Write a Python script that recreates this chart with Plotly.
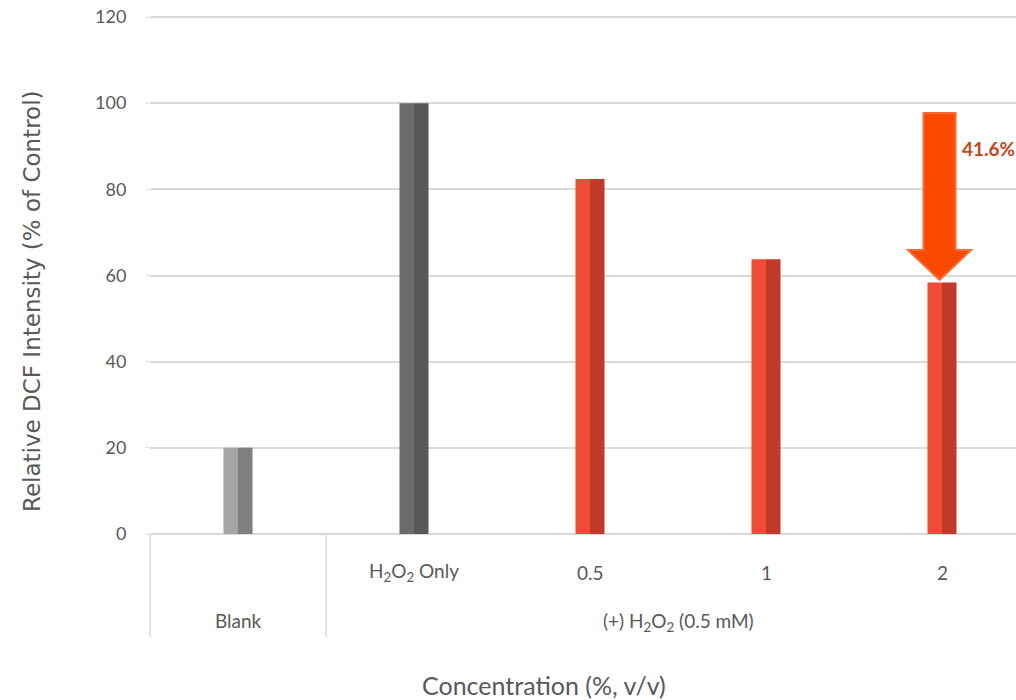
import plotly.graph_objects as go

# ---- data ----
categories = ["Blank", "H<sub>2</sub>O<sub>2</sub> Only", "0.5", "1", "2"]
values = [20, 100, 82.4, 63.8, 58.4]
light_colors = ["#a6a6a6", "#6b6b6b", "#ef4b35", "#ef4b35", "#ef4b35"]
dark_colors = ["#7f7f7f", "#595959", "#c0392b", "#c0392b", "#c0392b"]
group_label = "(+) H<sub>2</sub>O<sub>2</sub> (0.5 mM)"
y_ticks = [0, 20, 40, 60, 80, 100, 120]
reduction_label = "41.6%"
arrow_top = 97.7

idx = list(range(len(categories)))
half_w = 0.0825

PLOT_TOP, PLOT_BOTTOM, PLOT_LEFT, PLOT_RIGHT = 15, 534, 150, 1016
PH = PLOT_BOTTOM - PLOT_TOP
PW = PLOT_RIGHT - PLOT_LEFT
CAT_W = 176.0


def py(p):  # pixel y -> paper
    return (PLOT_BOTTOM - p) / PH


def px(p):  # pixel x -> paper
    return (p - PLOT_LEFT) / PW


fig = go.Figure()
fig.add_trace(go.Bar(x=idx, y=values, offset=-half_w, width=half_w,
                     marker=dict(color=light_colors, line=dict(width=0)),
                     showlegend=False, hoverinfo="skip"))
fig.add_trace(go.Bar(x=idx, y=values, offset=0, width=half_w,
                     marker=dict(color=dark_colors, line=dict(width=0)),
                     showlegend=False, hoverinfo="skip"))

lab_font = dict(family="Lato", size=19, color="#595959")
annotations = []
for i, c in enumerate(categories):
    if i == 0:
        annotations.append(dict(x=i, y=py(620), xref="x", yref="paper", text=c,
                                showarrow=False, font=lab_font,
                                xanchor="center", yanchor="middle"))
    else:
        annotations.append(dict(x=i, y=py(572), xref="x", yref="paper", text=c,
                                showarrow=False, font=lab_font,
                                xanchor="center", yanchor="middle"))
annotations.append(dict(x=(1 + len(categories) - 1) / 2, y=py(622), xref="x", yref="paper",
                        text=group_label, showarrow=False, font=lab_font,
                        xanchor="center", yanchor="middle"))
annotations.append(dict(x=px(544), y=py(685), xref="paper", yref="paper",
                        text="Concentration (%, v/v)", showarrow=False,
                        font=dict(family="Lato", size=25, color="#595959"),
                        xanchor="center", yanchor="middle"))
annotations.append(dict(x=px(32), y=py(301), xref="paper", yref="paper",
                        text="Relative DCF Intensity (% of Control)", showarrow=False,
                        textangle=-90,
                        font=dict(family="DejaVu Sans", size=23, color="#595959"),
                        xanchor="center", yanchor="middle"))
annotations.append(dict(x=px(1016), y=py(148), xref="paper", yref="paper",
                        text="<b>" + reduction_label + "</b>", showarrow=False,
                        font=dict(family="Lato", size=19, color="#c2471c"),
                        xanchor="right", yanchor="middle", borderpad=0))

shapes = []
for xp in [150, 326]:
    shapes.append(dict(type="line", xref="paper", yref="paper", x0=px(xp), x1=px(xp),
                       y0=0, y1=py(637), line=dict(color="#d9d9d9", width=1.5)))
# arrow
cx = len(categories) - 1 - 0.014
tip = values[-1] + 0.6
head_base = 65.9
sw, hw = 0.091, 0.179
path = (f"M {cx - sw},{arrow_top} L {cx + sw},{arrow_top} L {cx + sw},{head_base} "
        f"L {cx + hw},{head_base} L {cx},{tip} L {cx - hw},{head_base} "
        f"L {cx - sw},{head_base} Z")
shapes.append(dict(type="path", xref="x", yref="y", path=path,
                   fillcolor="#f94a00", line=dict(color="#f56a35", width=2)))

x_max = -0.5 + PW / CAT_W
y_max = 120 * PH / 517.0

fig.update_layout(
    width=1016, height=700,
    margin=dict(l=PLOT_LEFT, r=1016 - PLOT_RIGHT, t=PLOT_TOP, b=700 - PLOT_BOTTOM, autoexpand=False),
    plot_bgcolor="white", paper_bgcolor="white",
    barmode="overlay",
    xaxis=dict(range=[-0.5, x_max], showticklabels=False, showgrid=False,
               zeroline=False, showline=False, fixedrange=True),
    yaxis=dict(range=[0, y_max], tickvals=y_ticks, showgrid=True,
               gridcolor="#d9d9d9", gridwidth=1.5, zeroline=True,
               zerolinecolor="#d9d9d9", zerolinewidth=2,
               tickfont=dict(family="Lato", size=18, color="#595959"),
               ticks="outside", ticklen=3, tickcolor="#d9d9d9",
               ticklabelstandoff=16, showline=False, fixedrange=True),
    annotations=annotations,
    shapes=shapes,
)

fig.write_html("out.html", config={"displayModeBar": False},
               post_script="document.body.style.margin='0';")
